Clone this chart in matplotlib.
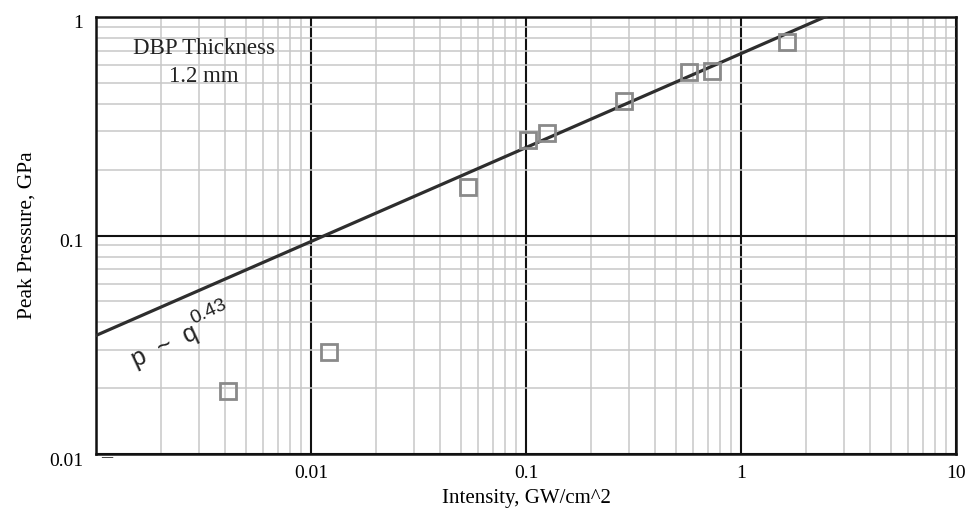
import numpy as np
import matplotlib
matplotlib.use("Agg")
import matplotlib.pyplot as plt
from matplotlib.ticker import LogLocator, FixedLocator, NullFormatter
from matplotlib.transforms import ScaledTranslation

# Measured peak pressure vs. laser intensity
intensity = [0.0041, 0.0121, 0.054, 0.1025, 0.125, 0.286, 0.57, 0.73, 1.63]   # GW/cm^2
pressure = [0.0195, 0.0294, 0.166, 0.273, 0.294, 0.413, 0.558, 0.565, 0.77]   # GPa

# Power-law fit p = C * q^n
fit_coef = 0.68
fit_exp = 0.43

x_tick_labels = ["0.01", "0.1", "1", "10"]
y_tick_labels = ["0.01", "0.1", "1"]

serif = ["Liberation Serif", "DejaVu Serif"]
sans = ["Liberation Sans", "DejaVu Sans"]

W, H = 972, 513
fig = plt.figure(figsize=(W / 100, H / 100), dpi=100)
ax = fig.add_axes([96 / W, 1 - 454 / H, (956 - 96) / W, (454 - 17) / H])

ax.set_xscale("log")
ax.set_yscale("log")
ax.set_xlim(0.001, 10)
ax.set_ylim(0.01, 1)

# Grid: black decades, light-gray subdivisions
ax.xaxis.set_minor_locator(LogLocator(base=10, subs=np.arange(2, 10), numticks=20))
ax.yaxis.set_minor_locator(LogLocator(base=10, subs=np.arange(2, 10), numticks=20))
ax.xaxis.set_minor_formatter(NullFormatter())
ax.yaxis.set_minor_formatter(NullFormatter())
ax.grid(which="minor", color="#c8c8c8", linewidth=1.1)
ax.xaxis.set_major_locator(FixedLocator([0.001, 0.01, 0.1, 1, 10]))
ax.yaxis.set_major_locator(FixedLocator([0.01, 0.1, 1]))
ax.grid(which="major", color="#111111", linewidth=1.5)
ax.set_axisbelow(True)

ax.set_xticklabels(["", *x_tick_labels], fontfamily=serif, fontsize=14)
ax.set_yticklabels(y_tick_labels, fontfamily=serif, fontsize=14)
ax.tick_params(which="both", length=0, pad=8)
ax.tick_params(axis="y", pad=9)
shift = ScaledTranslation(0, -0.05, fig.dpi_scale_trans)
for lab in ax.get_yticklabels():
    lab.set_transform(lab.get_transform() + shift)

for sp in ax.spines.values():
    sp.set_color("#111111")
    sp.set_linewidth(1.8)

# Fit line across the full intensity range
qf = np.logspace(-3, 1, 200)
ax.plot(qf, fit_coef * qf ** fit_exp, color="#2e2e2e", linewidth=2.3, zorder=3)

# Data points
ax.plot(intensity, pressure, linestyle="none", marker="s", markersize=11.5,
        markerfacecolor="none", markeredgecolor="#8a8a8a", markeredgewidth=2.0, zorder=4)

# Fit annotation
fig.text(165 / W, 1 - 346 / H, "p  ~  q", rotation=25, fontfamily=sans, fontsize=18,
         color="#222222", ha="center", va="center", rotation_mode="anchor")
fig.text(209 / W, 1 - 312 / H, "0.43", rotation=25, fontfamily=sans, fontsize=14,
         color="#222222", ha="center", va="center", rotation_mode="anchor")

ax.text(0.00318, 0.62, "DBP Thickness\n1.2 mm", fontfamily=serif, fontsize=16.5,
        ha="center", va="center", linespacing=1.4, color="#222222")

ax.set_xlabel("Intensity, GW/cm^2", fontfamily=serif, fontsize=15, labelpad=5)
ax.set_ylabel("Peak Pressure, GPa", fontfamily=serif, fontsize=15.5, labelpad=9)

fig.text(107 / W, 1 - 458 / H, "–", fontfamily=serif, fontsize=16,
         ha="center", va="center", color="#222222")

fig.savefig("out.png", dpi=100)
